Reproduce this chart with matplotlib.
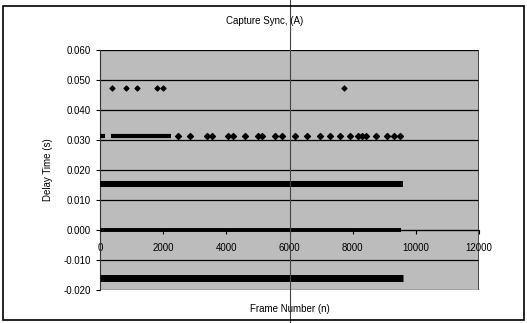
import matplotlib
matplotlib.use("Agg")
import matplotlib.pyplot as plt
from matplotlib.patches import Rectangle

plt.rcParams['font.family'] = ['Liberation Sans', 'DejaVu Sans']

# dense bands: (first frame, last frame), delay in seconds
band_hi_frames = [0, 9600]
band_hi_delay = 0.0155
band_zero_frames = [0, 9530]
band_zero_delay = 0.0
band_lo_frames = [0, 9600]
band_lo_delay = -0.016

# 0.0315 s series: near-continuous runs plus scattered points
mid_runs = [(0, 150), (350, 2250)]
mid_frames = [2470, 2850, 3390, 3550, 4050, 4210, 4590, 5000, 5130, 5540,
              5760, 6170, 6550, 6970, 7280, 7600, 7920, 8170, 8300, 8420,
              8740, 9090, 9310, 9500]
mid_delay = 0.0315

# 0.047 s outliers
top_frames = [380, 820, 1170, 1800, 2000, 7730]
top_delay = 0.0473

yticks = [-0.02, -0.01, 0.0, 0.01, 0.02, 0.03, 0.04, 0.05, 0.06]
xticks = [0, 2000, 4000, 6000, 8000, 10000, 12000]

fig = plt.figure(figsize=(5.27, 3.23), dpi=100)
ax = fig.add_axes([0.190, 0.102, 0.719, 0.743])
ax.set_facecolor('#bcbcbc')

ax.set_xlim(0, 12000)
ax.set_ylim(-0.02, 0.06)

for y in yticks:
    ax.axhline(y, color='black', lw=0.9, zorder=1)
ax.axvline(12000, color='#333333', lw=1.2, zorder=1)

# bands
ax.plot(band_hi_frames, [band_hi_delay] * 2, color='black', lw=4.3,
        solid_capstyle='butt', zorder=3)
ax.plot(band_zero_frames, [band_zero_delay] * 2, color='black', lw=2.8,
        solid_capstyle='butt', zorder=3)
ax.plot(band_lo_frames, [band_lo_delay] * 2, color='black', lw=5.0,
        solid_capstyle='butt', zorder=3)
for a, b in mid_runs:
    ax.plot([a, b], [mid_delay] * 2, color='black', lw=3.0,
            solid_capstyle='butt', zorder=3)
ax.scatter(mid_frames, [mid_delay] * len(mid_frames), marker='D', s=9,
           color='black', zorder=3)
ax.scatter(top_frames, [top_delay] * len(top_frames), marker='D', s=6,
           color='black', zorder=3)

# axes styling (x axis crosses at zero, like the Excel chart)
ax.spines['bottom'].set_position(('data', 0))
ax.spines['top'].set_visible(False)
ax.spines['right'].set_visible(False)
ax.spines['left'].set_color('#333333')
ax.set_yticks(yticks)
ax.set_yticklabels(['%.3f' % v for v in yticks])
ax.set_xticks(xticks)
ax.set_xticklabels([str(v) for v in xticks])
ax.tick_params(axis='both', labelsize=7, length=3, color='black')
ax.tick_params(axis='x', pad=6)

ax.set_ylabel('Delay Time (s)', fontsize=7, labelpad=8)
ax.set_xlabel('Frame Number (n)', fontsize=7, labelpad=2)
ax.xaxis.set_label_coords(0.5, -0.06)
fig.text(0.503, 0.935, 'Capture Sync, (A)', fontsize=7, ha='center', va='center')

# scan fold line through the page at 6000
ax.axvline(6000, ymin=-0.14, ymax=1.21, color='#444444', lw=0.8,
           clip_on=False, zorder=4)

# outer chart border
fig.add_artist(Rectangle((0.006, 0.009), 0.988, 0.972, transform=fig.transFigure,
                         fill=False, edgecolor='black', lw=1.2))

fig.savefig('out.png', dpi=100)
